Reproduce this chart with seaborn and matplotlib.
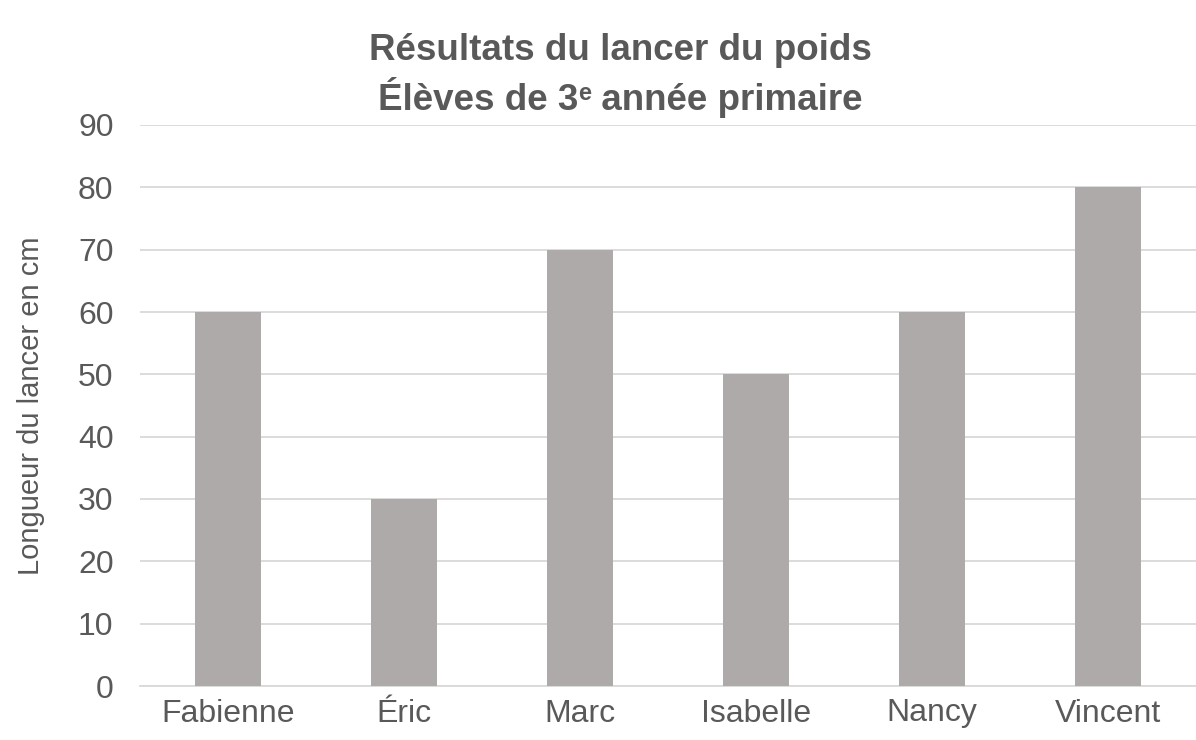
import matplotlib
matplotlib.use("Agg")
import matplotlib.pyplot as plt
import pandas as pd
import seaborn as sns
from matplotlib.transforms import offset_copy

# data
eleves = ["Fabienne", "Éric", "Marc", "Isabelle", "Nancy", "Vincent"]
longueurs = [60, 30, 70, 50, 60, 80]
y_ticks = [0, 10, 20, 30, 40, 50, 60, 70, 80, 90]

TEXT_COLOR = "#595959"
BAR_COLOR = "#ADAAA9"
GRID_COLOR = "#D9D9D9"

sns.set_theme(style="white")
plt.rcParams["font.family"] = ["Liberation Sans", "DejaVu Sans"]

df = pd.DataFrame({"eleve": eleves, "longueur": longueurs})

fig = plt.figure(figsize=(11.96, 7.40), dpi=100)
ax = fig.add_axes([140 / 1196, 1 - 686 / 740, 1 - 140 / 1196, (686 - 125) / 740])

sns.barplot(data=df, x="eleve", y="longueur", color=BAR_COLOR, width=0.375,
            saturation=1, linewidth=0, ax=ax, zorder=3)

ax.set_ylim(0, 90)
ax.set_yticks(y_ticks)
ax.set_xlim(-0.5, len(eleves) - 0.5)
ax.grid(axis="y", color=GRID_COLOR, linewidth=1.3, zorder=0)
ax.grid(axis="x", visible=False)
for side in ["top", "right", "left"]:
    ax.spines[side].set_visible(False)
ax.spines["bottom"].set_color(GRID_COLOR)
ax.spines["bottom"].set_linewidth(1.3)

ax.tick_params(axis="both", length=0, labelsize=23, labelcolor=TEXT_COLOR)
ax.tick_params(axis="y", pad=19)
ax.tick_params(axis="x", pad=9)
ax.set_xlabel("")
ax.set_ylabel("Longueur du lancer en cm", fontsize=21, color=TEXT_COLOR, labelpad=24)

# title, first line
title_kw = dict(fontsize=26.5, fontweight="bold", color=TEXT_COLOR)
fig.text(620 / 1196, 0.932, "Résultats du lancer du poids", ha="center", va="center",
         **title_kw)

# second line built from pieces so the superscript "e" sits like in the original
renderer = fig.canvas.get_renderer()
parts = [("Élèves de 3", 26.5, 0), ("e", 17, 7), (" année primaire", 26.5, 0)]
widths = []
for s, fs, _ in parts:
    t = fig.text(0, 0, s, fontsize=fs, fontweight="bold")
    widths.append(t.get_window_extent(renderer).width)
    t.remove()
x_px = 620 - sum(widths) / 2
base_y = 0.852
for (s, fs, dy), w in zip(parts, widths):
    tr = offset_copy(fig.transFigure, fig=fig, x=0, y=dy, units="points")
    fig.text(x_px / 1196, base_y, s, ha="left", va="baseline", transform=tr,
             fontsize=fs, fontweight="bold", color=TEXT_COLOR)
    x_px += w

fig.savefig("out.png", dpi=100)
plt.close(fig)
